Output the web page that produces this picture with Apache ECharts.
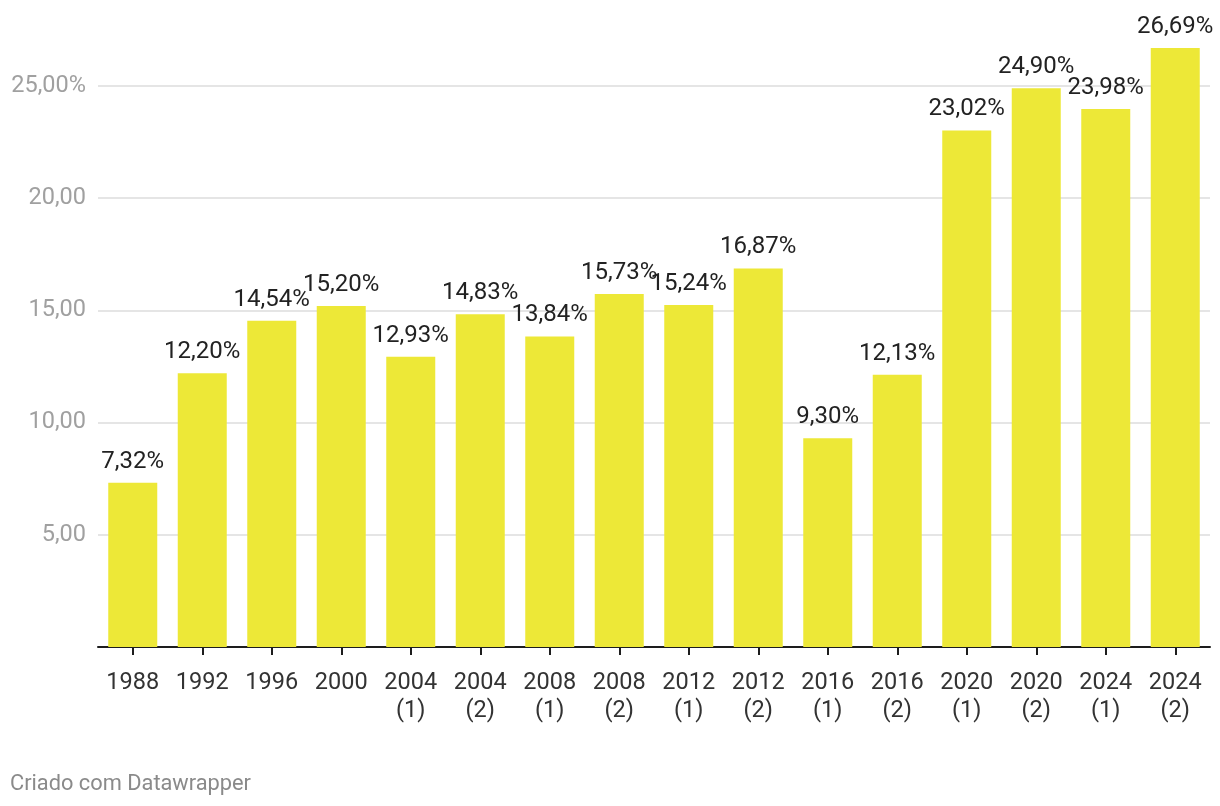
<!DOCTYPE html>
<html>
<head>
<meta charset="utf-8">
<script src="https://cdn.jsdelivr.net/npm/echarts@6/dist/echarts.min.js"></script>
<style>
html,body{margin:0;padding:0;background:#fff;}
#chart{width:1220px;height:806px;}
</style>
</head>
<body>
<div id="chart"></div>
<script>
var categories = ['1988','1992','1996','2000','2004\n(1)','2004\n(2)','2008\n(1)','2008\n(2)','2012\n(1)','2012\n(2)','2016\n(1)','2016\n(2)','2020\n(1)','2020\n(2)','2024\n(1)','2024\n(2)'];
var values = [7.32, 12.20, 14.54, 15.20, 12.93, 14.83, 13.84, 15.73, 15.24, 16.87, 9.30, 12.13, 23.02, 24.90, 23.98, 26.69];
var yTicks = [0, 5, 10, 15, 20, 25];

function fmt(v){ return v.toFixed(2).replace('.', ','); }

var chart = echarts.init(document.getElementById('chart'));
chart.setOption({
  animation: false,
  backgroundColor: '#ffffff',
  textStyle: { fontFamily: 'Roboto' },
  grid: { left: 98, right: 10, top: 18.7, bottom: 159, containLabel: false },
  xAxis: {
    type: 'category',
    data: categories,
    axisLine: { show: true, lineStyle: { color: '#1d1d1d', width: 2 } },
    axisTick: { show: true, alignWithLabel: true, length: 8, lineStyle: { color: '#1d1d1d', width: 2 } },
    axisLabel: { color: '#333333', fontSize: 23.5, lineHeight: 28, margin: 22, interval: 0, fontFamily: 'Roboto' }
  },
  yAxis: {
    type: 'value',
    min: 0, max: 28, interval: 5,
    axisLine: { show: false },
    axisTick: { show: false },
    splitLine: { show: true, showMaxLine: false, lineStyle: { color: '#e5e5e5', width: 2 } },
    axisLabel: {
      showMaxLabel: false,
      color: '#a0a0a0', fontSize: 23.5, margin: 12, fontFamily: 'Roboto',
      formatter: function(v){
        if (v === 0) return '';
        if (v === yTicks[yTicks.length - 1]) return fmt(v) + '%';
        return fmt(v);
      }
    }
  },
  series: [{
    type: 'bar',
    data: values,
    barWidth: 49,
    itemStyle: { color: '#ede837' },
    label: {
      show: true, position: 'top', distance: 9,
      color: '#222222', fontSize: 24, fontFamily: 'Roboto',
      formatter: function(p){ return fmt(p.value) + '%'; }
    }
  }],
  graphic: [{
    type: 'text', left: 10, top: 774,
    style: { text: 'Criado com Datawrapper', fill: '#8a8a8a', fontSize: 21.8, fontFamily: 'Roboto' }
  }]
});
</script>
</body>
</html>
